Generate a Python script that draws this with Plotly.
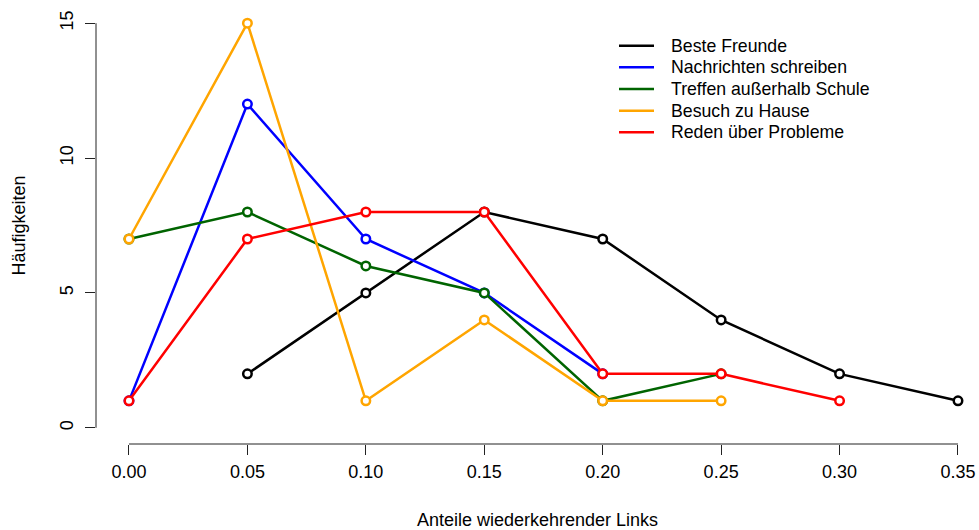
import plotly.graph_objects as go

beste_freunde_x = [0.05, 0.10, 0.15, 0.20, 0.25, 0.30, 0.35]
beste_freunde_y = [2, 5, 8, 7, 4, 2, 1]

nachrichten_x = [0.00, 0.05, 0.10, 0.15, 0.20]
nachrichten_y = [1, 12, 7, 5, 2]

treffen_x = [0.00, 0.05, 0.10, 0.15, 0.20, 0.25]
treffen_y = [7, 8, 6, 5, 1, 2]

besuch_x = [0.00, 0.05, 0.10, 0.15, 0.20, 0.25]
besuch_y = [7, 15, 1, 4, 1, 1]

reden_x = [0.00, 0.05, 0.10, 0.15, 0.20, 0.25, 0.30]
reden_y = [1, 7, 8, 8, 2, 2, 1]

series_names = ["Beste Freunde", "Nachrichten schreiben", "Treffen außerhalb Schule",
                "Besuch zu Hause", "Reden über Probleme"]
series_colors = ["#000000", "#0000FF", "#006400", "#FFA500", "#FF0000"]
series_data = [(beste_freunde_x, beste_freunde_y), (nachrichten_x, nachrichten_y),
               (treffen_x, treffen_y), (besuch_x, besuch_y), (reden_x, reden_y)]

x_ticks = [0.00, 0.05, 0.10, 0.15, 0.20, 0.25, 0.30, 0.35]
x_ticklabels = ["0.00", "0.05", "0.10", "0.15", "0.20", "0.25", "0.30", "0.35"]
y_ticks = [0, 5, 10, 15]
y_ticklabels = ["0", "5", "10", "15"]

FONT = "Liberation Sans, Arial, sans-serif"
AXIS_COLOR = "#222222"

# plot-area geometry in figure pixels
W, H = 979, 530
ML, MR, MT, MB = 96, 0, 7, 86
PW, PH = W - ML - MR, H - MT - MB


def px_x(px):
    return (px - ML) / PW


def px_y(py):
    return (H - MB - py) / PH


fig = go.Figure()
for name, color, (xs, ys) in zip(series_names, series_colors, series_data):
    fig.add_trace(go.Scatter(
        x=xs, y=ys, mode="lines+markers", showlegend=False,
        line=dict(color=color, width=2.5),
        marker=dict(symbol="circle", size=8.5, color="white",
                    line=dict(color=color, width=2.5)),
        hoverinfo="x+y", name=name,
    ))

# R-style detached axis lines spanning the tick range
fig.add_shape(type="line", xref="x", yref="paper",
              x0=min(x_ticks), x1=max(x_ticks), y0=0, y1=0,
              line=dict(color=AXIS_COLOR, width=1))
fig.add_shape(type="line", xref="paper", yref="y",
              x0=0, x1=0, y0=min(y_ticks), y1=max(y_ticks),
              line=dict(color=AXIS_COLOR, width=1))

# Legend (R style, no box)
leg_line_x0, leg_line_x1, leg_text_x = 619, 654, 669
leg_y0, leg_dy = 45.7, 21.65
for i, (name, color) in enumerate(zip(series_names, series_colors)):
    yy = leg_y0 + i * leg_dy
    fig.add_shape(type="line", xref="paper", yref="paper",
                  x0=px_x(leg_line_x0), x1=px_x(leg_line_x1),
                  y0=px_y(yy), y1=px_y(yy),
                  line=dict(color=color, width=2.5))
    fig.add_annotation(xref="paper", yref="paper", x=px_x(leg_text_x), y=px_y(yy),
                       text=name, showarrow=False, xanchor="left", yanchor="middle",
                       font=dict(size=17.7, color="black", family=FONT))

fig.update_layout(
    width=W, height=H,
    margin=dict(l=ML, r=MR, t=MT, b=MB, autoexpand=False),
    paper_bgcolor="white", plot_bgcolor="white",
    font=dict(family=FONT, size=18, color="black"),
    showlegend=False,
    xaxis=dict(
        range=[-0.01393, 0.35887], showgrid=False, zeroline=False, showline=False,
        automargin=False,
        tickmode="array", tickvals=x_ticks, ticktext=x_ticklabels,
        ticks="outside", ticklen=10, tickcolor=AXIS_COLOR, tickwidth=1,
        tickfont=dict(size=18), ticklabelstandoff=1,
        title=dict(text="Anteile wiederkehrender Links", font=dict(size=18), standoff=41),
    ),
    yaxis=dict(
        range=[-0.6, 15.6], showgrid=False, zeroline=False, showline=False,
        automargin=False,
        tickmode="array", tickvals=y_ticks, ticktext=y_ticklabels,
        ticks="outside", ticklen=10, tickcolor=AXIS_COLOR, tickwidth=1,
        tickangle=-90, tickfont=dict(size=18), ticklabelstandoff=5,
        title=dict(text="Häufigkeiten", font=dict(size=18), standoff=26),
    ),
)

fig.write_html("out.html", config={"displayModeBar": False},
               post_script="document.body.style.margin='0px';")
